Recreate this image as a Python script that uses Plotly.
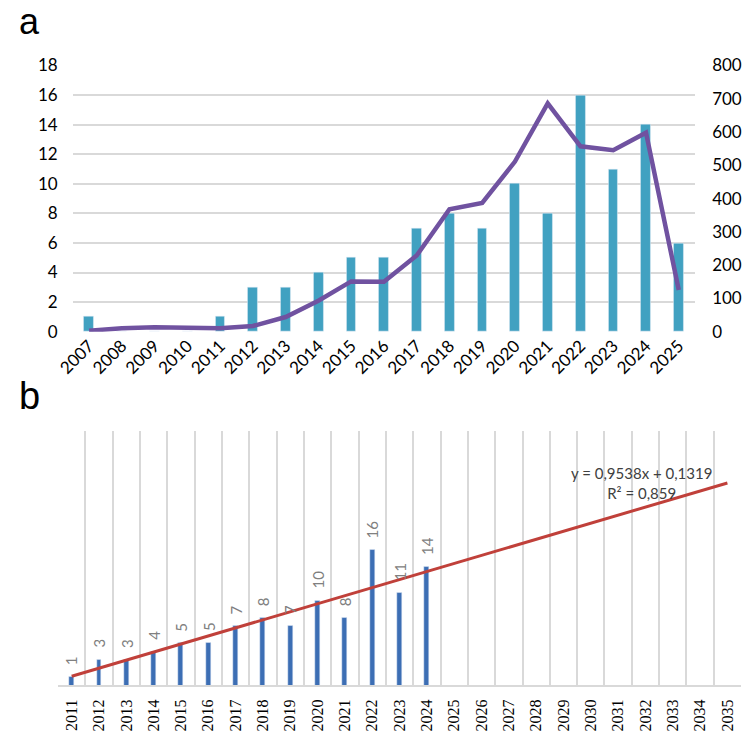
import plotly.graph_objects as go

# ---- data: panel a ----
years_a = [str(y) for y in range(2007, 2026)]
pubs_a = [1, 0, 0, 0, 1, 3, 3, 4, 5, 5, 7, 8, 7, 10, 8, 16, 11, 14, 6]
cites_a = [3, 10, 13, 13, 10, 17, 44, 93, 151, 150, 229, 368, 387, 511, 686, 557, 545, 598, 125]
left_ticks = [0, 2, 4, 6, 8, 10, 12, 14, 16, 18]
right_ticks = [0, 100, 200, 300, 400, 500, 600, 700, 800]

# ---- data: panel b ----
years_b = [str(y) for y in range(2011, 2036)]
pubs_b = [1, 3, 3, 4, 5, 5, 7, 8, 7, 10, 8, 16, 11, 14]
trend_slope = 0.9538
trend_intercept = 0.1319
trend_r2 = 0.859

W = H = 744
def px(v):
    return v / W
def py(v):
    return 1 - v / H

FONT = "Lato"
BAR_A = "#41A1C1"
LINE_A = "#7052A0"
BAR_B = "#3C6EB4"
TREND = "#C0403A"

fig = go.Figure()

fig.add_trace(go.Bar(x=years_a, y=pubs_a, marker_color=BAR_A, width=0.3,
                     xaxis="x", yaxis="y", showlegend=False))
fig.add_trace(go.Scatter(x=years_a, y=cites_a, mode="lines",
                         line=dict(color=LINE_A, width=4.5),
                         xaxis="x", yaxis="y2", showlegend=False))

# invisible trace to register all categories of panel b
fig.add_trace(go.Scatter(x=years_b, y=[None] * len(years_b), mode="markers",
                         hoverinfo="skip", xaxis="x2", yaxis="y3", showlegend=False))
fig.add_trace(go.Bar(x=years_b[:len(pubs_b)], y=pubs_b, marker_color=BAR_B, width=0.18,
                     xaxis="x2", yaxis="y3", showlegend=False))
tx = [1, len(years_b)]
ty = [trend_slope * v + trend_intercept for v in tx]
fig.add_trace(go.Scatter(x=[years_b[0], years_b[-1]], y=ty, mode="lines",
                         line=dict(color=TREND, width=3),
                         xaxis="x2", yaxis="y3", showlegend=False))

# data labels (rotated) above bars of panel b; category index positions
for i, v in enumerate(pubs_b):
    fig.add_annotation(x=i, y=v, xref="x2", yref="y3", text=str(v),
                       textangle=-90, showarrow=False, yanchor="bottom",
                       xanchor="center", yshift=10,
                       font=dict(family=FONT, size=15, color="#808080"))

grid = "#D9D9D9"
fig.update_layout(
    width=W, height=H, margin=dict(l=0, r=0, t=0, b=0),
    paper_bgcolor="white", plot_bgcolor="white",
    font=dict(family=FONT, size=17, color="#000000"),
    bargap=0,
    xaxis=dict(domain=[px(57), px(694)], anchor="y", type="category",
               range=[-0.5, 18.5], tickangle=-45, showgrid=False,
               ticks="", showline=False, tickfont=dict(size=17)),
    yaxis=dict(domain=[py(330), py(56)], anchor="x", range=[0, 18],
               tickvals=left_ticks, showgrid=True, gridcolor=grid, gridwidth=1.5,
               zeroline=False, showline=False, ticks="", ticklabelstandoff=14,
               tickfont=dict(size=17)),
    yaxis2=dict(overlaying="y", side="right", anchor="x", range=[0, 800],
                tickvals=right_ticks, showgrid=False, zeroline=False,
                showline=False, ticks="", ticklabelstandoff=16,
                tickfont=dict(size=17)),
    xaxis2=dict(domain=[px(42), px(741)], anchor="y3", type="category",
                categoryorder="array", categoryarray=years_b,
                range=[-0.5, 24.5], tickangle=-90, tickson="boundaries",
                showgrid=True, gridcolor=grid, gridwidth=1.5,
                showline=True, linecolor=grid, linewidth=1.5, ticks="",
                ticklabelstandoff=6,
                tickfont=dict(family="Liberation Serif", size=16, color="#000000")),
    yaxis3=dict(domain=[py(694), py(432)], anchor="x2", range=[0, 30.15],
                showgrid=False, zeroline=False, showline=False,
                showticklabels=False, ticks=""),
)

fig.add_annotation(text="a", x=px(0), y=py(-12), xref="paper", yref="paper",
                   xanchor="left", yanchor="top", showarrow=False,
                   font=dict(family="Liberation Sans", size=36, color="black"))
fig.add_annotation(text="b", x=px(0), y=py(372), xref="paper", yref="paper",
                   xanchor="left", yanchor="top", showarrow=False,
                   font=dict(family="Liberation Sans", size=38, color="black"))
fig.add_annotation(text="y = 0,9538x + 0,1319<br>R² = 0,859",
                   x=px(639), y=py(486), xref="paper", yref="paper",
                   xanchor="center", yanchor="middle", showarrow=False, align="center",
                   font=dict(family=FONT, size=15, color="#404040"))

fig.write_html("out.html")
